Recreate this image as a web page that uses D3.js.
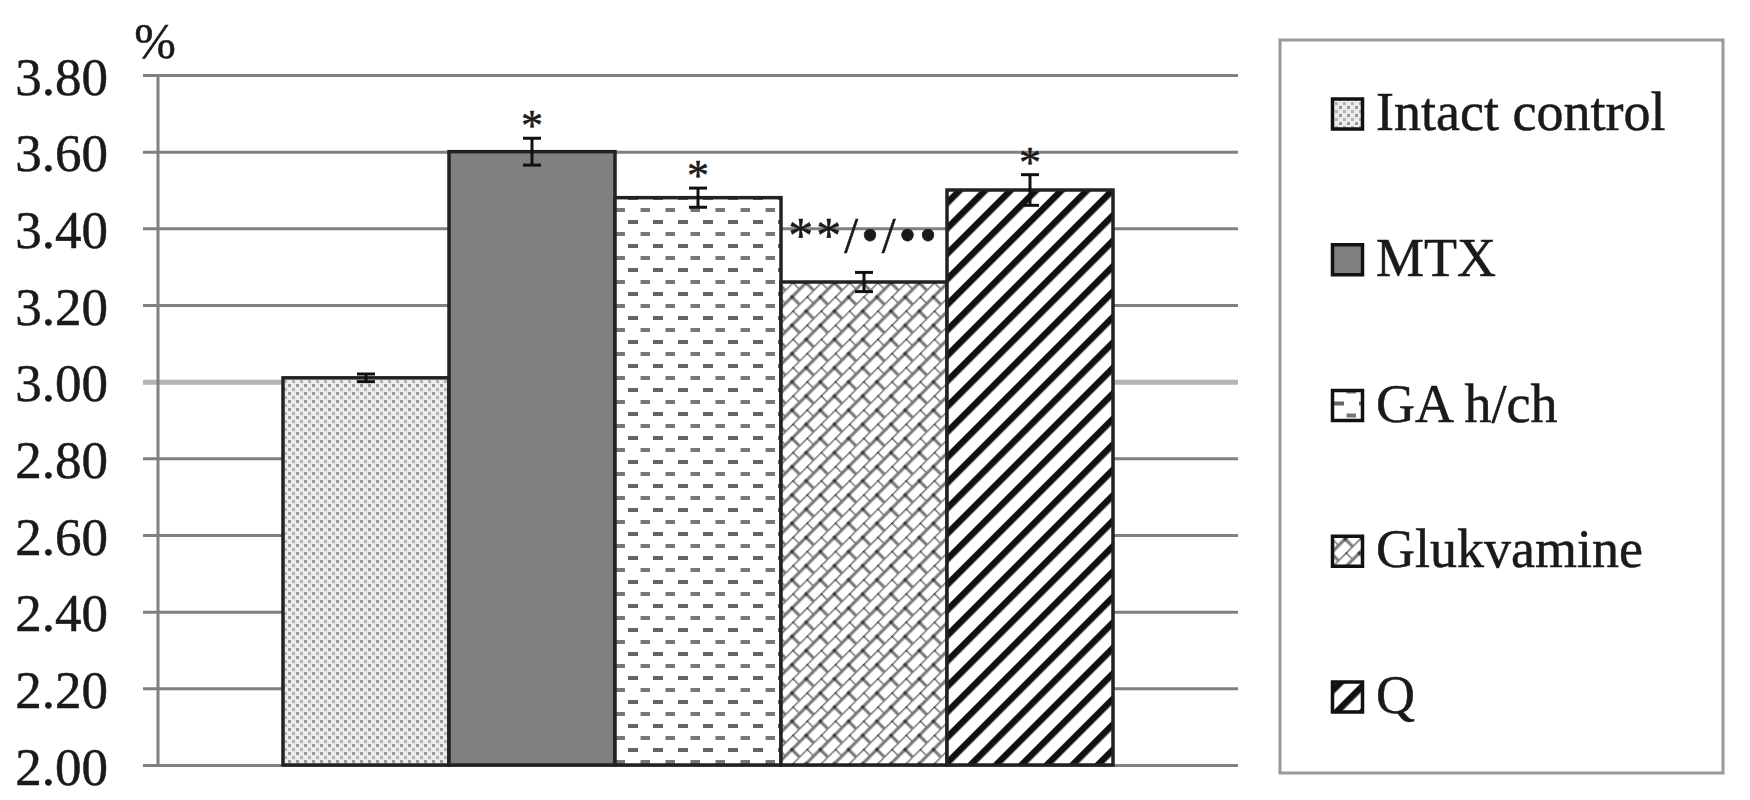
<!DOCTYPE html>
<html>
<head>
<meta charset="utf-8">
<script src="https://cdn.jsdelivr.net/npm/d3@7"></script>
<style>
  body { margin: 0; background: #fff; }
  text { font-family: "Liberation Serif", "Times New Roman", serif; fill: #1a1a1a; stroke: #1a1a1a; stroke-width: 0.5px; }
</style>
</head>
<body>
<div id="chart"></div>
<script>
"use strict";

// data
var groups = ["Intact control", "MTX", "GA h/ch", "Glukvamine", "Q"];
var values = [3.01, 3.60, 3.48, 3.26, 3.50];
var errors = [0.01, 0.035, 0.025, 0.025, 0.04];
var marks = ["", "*", "*", "**/\u2022/\u2022\u2022", "*"];
var yTicks = [2.0, 2.2, 2.4, 2.6, 2.8, 3.0, 3.2, 3.4, 3.6, 3.8];
var fills = ["url(#pDots)", "#808080", "url(#pDash)", "url(#pBrick)", "url(#pDiag)"];

var w = 1750,
  h = 800;
var plot = { left: 158, right: 1238, top: 75, bottom: 765 };

var svg = d3.select("#chart").append("svg").attr("width", w).attr("height", h);

/**
 * Fill patterns for the bars.
 */
var defs = svg.append("defs");

var dots = defs.append("pattern").attr("id", "pDots")
  .attr("patternUnits", "userSpaceOnUse").attr("width", 8).attr("height", 8);
dots.append("rect").attr("width", 8).attr("height", 8).attr("fill", "#ececec");
dots.append("rect").attr("x", 0).attr("y", 0).attr("width", 3).attr("height", 3).attr("fill", "#9a9a9a");
dots.append("rect").attr("x", 4).attr("y", 4).attr("width", 3).attr("height", 3).attr("fill", "#b4b4b4");

var dash = defs.append("pattern").attr("id", "pDash")
  .attr("patternUnits", "userSpaceOnUse").attr("width", 25).attr("height", 24);
dash.append("rect").attr("width", 25).attr("height", 24).attr("fill", "#fff");
dash.append("rect").attr("x", 3).attr("y", 4).attr("width", 10).attr("height", 4).attr("fill", "#666");
dash.append("rect").attr("x", 15.5).attr("y", 16).attr("width", 10).attr("height", 4).attr("fill", "#777");

// diagonal brick weave
var brick = defs.append("pattern").attr("id", "pBrick")
  .attr("patternUnits", "userSpaceOnUse").attr("width", 20).attr("height", 20)
  .attr("patternTransform", "rotate(-45)");
brick.append("rect").attr("width", 20).attr("height", 20).attr("fill", "#fff");
brick.append("path").attr("d", "M0,0 H20 M0,10 H20 M0,0 V10 M10,10 V20")
  .attr("stroke", "#777").attr("stroke-width", 3).attr("fill", "none");
brick.append("rect").attr("x", -1.5).attr("y", -1.5).attr("width", 3).attr("height", 3).attr("fill", "#333");
brick.append("rect").attr("x", 8.5).attr("y", 8.5).attr("width", 3).attr("height", 3).attr("fill", "#333");

var diag = defs.append("pattern").attr("id", "pDiag")
  .attr("patternUnits", "userSpaceOnUse").attr("width", 18).attr("height", 18)
  .attr("patternTransform", "rotate(45)");
diag.append("rect").attr("width", 18).attr("height", 18).attr("fill", "#fff");
diag.append("rect").attr("x", 0).attr("width", 6.5).attr("height", 18).attr("fill", "#111");

// scales
var x = d3.scaleBand().domain(groups).range([plot.left, plot.right])
  .paddingInner(0).paddingOuter(0.753);
var y = d3.scaleLinear().domain([2.0, 3.8]).range([plot.bottom, plot.top]);

// gridlines and tick labels
var yAxis = d3.axisLeft(y).tickValues(yTicks)
  .tickSize(-(plot.right - plot.left + 15))
  .tickFormat(d3.format(".2f"));

var ax = svg.append("g").attr("transform", "translate(" + (plot.right) + ",0)").call(yAxis);
ax.select(".domain").remove();
ax.selectAll(".tick line")
  .attr("x1", 0)
  .attr("x2", -(plot.right - plot.left + 15))
  .attr("stroke", function (d) { return d === 3.0 ? "#b4b4b4" : "#808080"; })
  .attr("stroke-width", function (d) { return d === 3.0 ? 5 : 3; });
ax.selectAll(".tick text")
  .attr("x", -(plot.right - 108))
  .attr("dy", "0.36em")
  .style("font-size", "53px")
  .style("fill", "#1a1a1a")
  .style("font-family", "Liberation Serif, serif")
  .attr("text-anchor", "end");

svg.append("line")
  .attr("x1", plot.left).attr("x2", plot.left)
  .attr("y1", plot.top).attr("y2", plot.bottom)
  .attr("stroke", "#808080").attr("stroke-width", 3);

svg.append("text").attr("x", 155).attr("y", 58)
  .attr("text-anchor", "middle").style("font-size", "50px").text("%");

// bars
svg.append("g").selectAll("rect").data(groups).enter().append("rect")
  .attr("x", function (d) { return x(d); })
  .attr("y", function (d, i) { return y(values[i]); })
  .attr("width", x.bandwidth())
  .attr("height", function (d, i) { return y(2.0) - y(values[i]); })
  .attr("fill", function (d, i) { return fills[i]; })
  .attr("stroke", "#222")
  .attr("stroke-width", 3.5);

// error bars
var eb = svg.append("g").attr("stroke", "#111").attr("stroke-width", 3).attr("fill", "none");
groups.forEach(function (g, i) {
  var cx = x(g) + x.bandwidth() / 2;
  var y1 = y(values[i] + errors[i]),
    y2 = y(values[i] - errors[i]);
  eb.append("line").attr("x1", cx).attr("x2", cx).attr("y1", y1).attr("y2", y2);
  eb.append("line").attr("x1", cx - 9).attr("x2", cx + 9).attr("y1", y1).attr("y2", y1);
  eb.append("line").attr("x1", cx - 9).attr("x2", cx + 9).attr("y1", y2).attr("y2", y2);
});

// significance marks
svg.append("g").selectAll("text").data(groups).enter().append("text")
  .attr("x", function (d) { return x(d) + x.bandwidth() / 2; })
  .attr("y", function (d, i) {
    var top = y(values[i] + errors[i]);
    return marks[i].length > 1 ? top - 20 : top + 2;
  })
  .attr("text-anchor", "middle")
  .style("font-size", function (d, i) { return marks[i].length > 1 ? "50px" : "44px"; })
  .style("letter-spacing", function (d, i) { return marks[i].length > 1 ? "3px" : "0px"; })
  .text(function (d, i) { return marks[i]; });

// legend
var lg = svg.append("g");
lg.append("rect").attr("x", 1280).attr("y", 40).attr("width", 443).attr("height", 733)
  .attr("fill", "#fff").attr("stroke", "#999").attr("stroke-width", 3);

var item = lg.selectAll(".item").data(groups).enter().append("g")
  .attr("class", "item")
  .attr("transform", function (d, i) { return "translate(1331," + (130 + i * 145.75) + ")"; });
item.append("rect").attr("x", 1.5).attr("y", -31).attr("width", 30).attr("height", 30)
  .attr("fill", function (d, i) { return fills[i]; })
  .attr("stroke", "#111").attr("stroke-width", 3.5);
item.append("text").attr("x", 45).attr("y", 0)
  .style("font-size", "54px")
  .text(function (d) { return d; });
</script>
</body>
</html>
